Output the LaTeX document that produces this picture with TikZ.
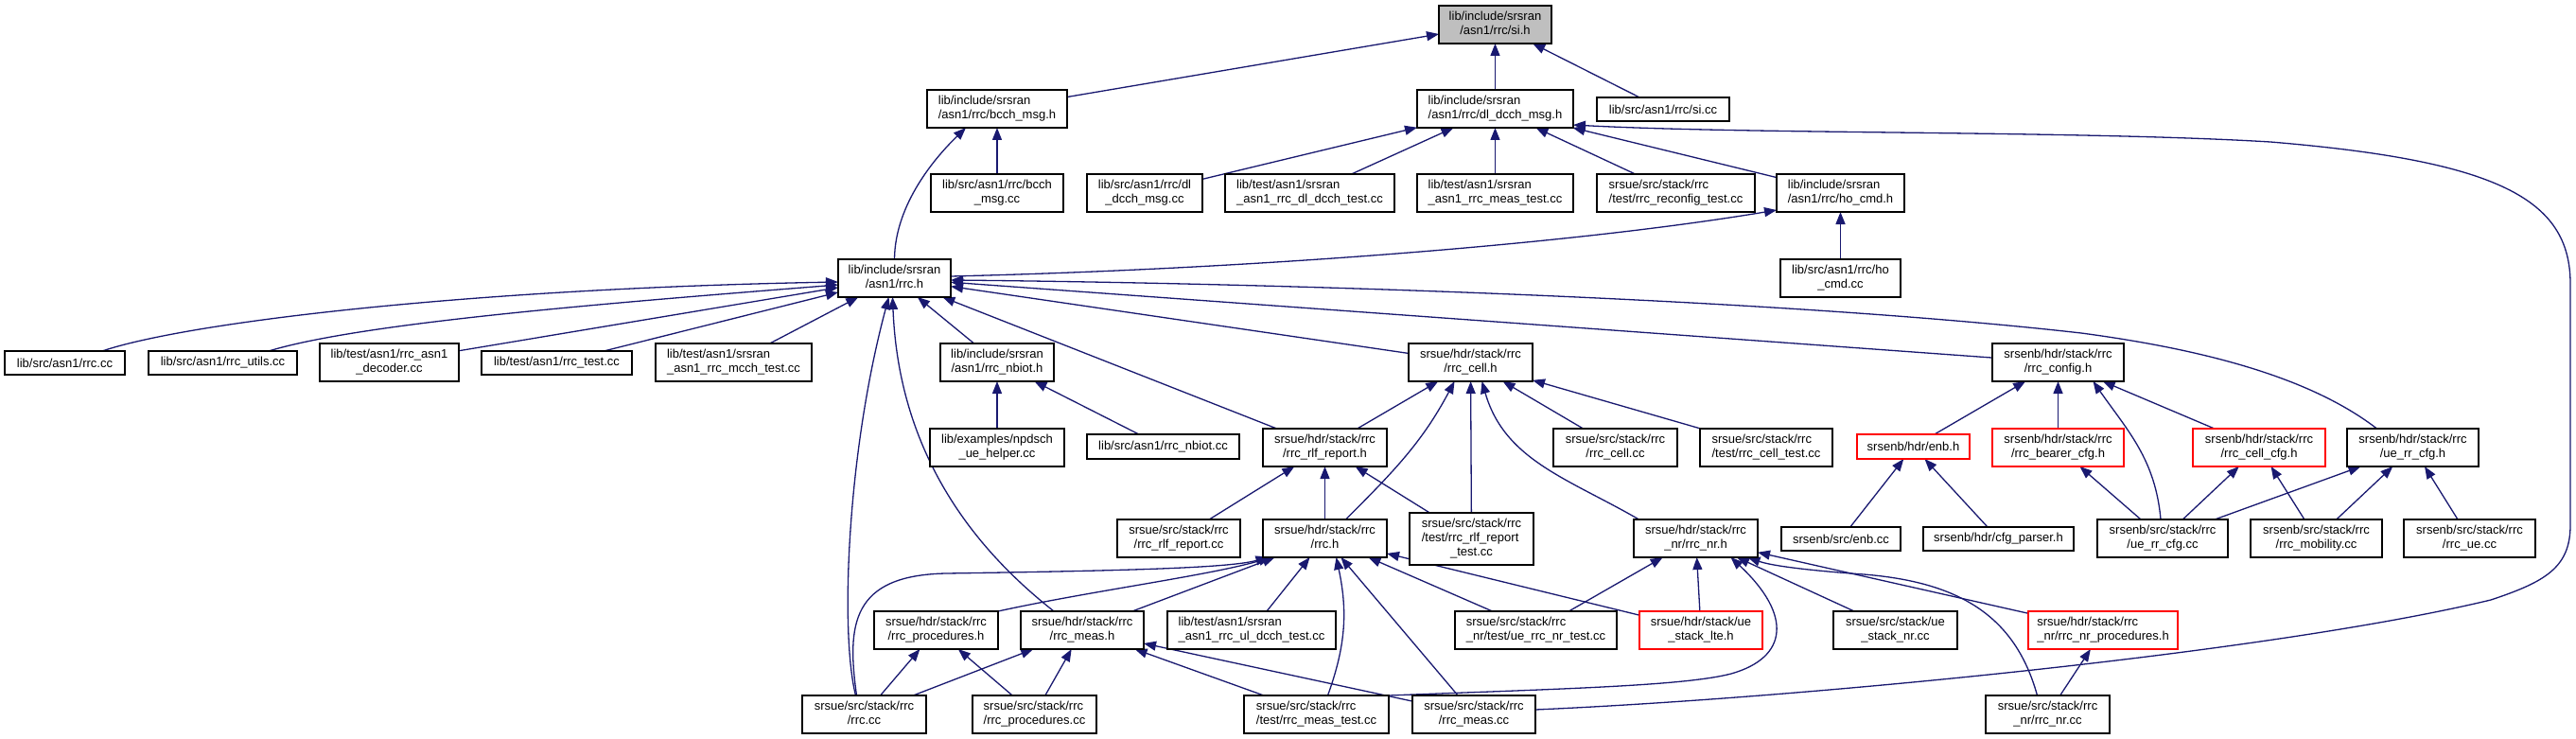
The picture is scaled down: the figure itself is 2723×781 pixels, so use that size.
\documentclass[tikz,border=0pt]{standalone}
\usepackage{fontspec}
\setmainfont{Liberation Sans}
\usetikzlibrary{arrows.meta}
\definecolor{edgeblue}{RGB}{25,25,112}
\definecolor{nodegray}{RGB}{191,191,191}
\pgfdeclarelayer{bg}
\pgfsetlayers{bg,main}
\newcommand{\twoln}[2]{\begin{tabular}{@{}l@{}}#1\\\multicolumn{1}{@{}c@{}}{#2}\end{tabular}}
\newcommand{\threeln}[3]{\begin{tabular}{@{}l@{}}#1\\#2\\\multicolumn{1}{@{}c@{}}{#3}\end{tabular}}
\newcommand{\mkfile}[7][]{\node[filebox,#1,minimum width={(#4-#3)*1pt},minimum height={(#6-#5)*1pt}] (#2) at ({(#3+#4)/2},{(#5+#6)/2}) {#7};}
\tikzset{
  filebox/.style={rectangle, draw=black, fill=white, line width=1.4pt, inner sep=0pt, outer sep=0pt, font={\fontsize{13}{15}\selectfont}},
  trunc/.style={draw=red},
  rootbox/.style={fill=nodegray},
  dep/.style={draw=edgeblue, line width=1.3pt, -{Triangle[length=13pt,width=10pt]}}
}
\begin{document}
\begin{tikzpicture}[x=1pt,y=-1pt]
\useasboundingbox (0,0) rectangle (2723,781);
% nodes
\mkfile[rootbox]{si}{1521}{1640}{6}{46}{\twoln{lib/include/srsran}{/asn1/rrc/si.h}}
\mkfile{bcchh}{980}{1128}{95}{135}{\twoln{lib/include/srsran}{/asn1/rrc/bcch\_msg.h}}
\mkfile{dldcchh}{1498}{1663}{95}{135}{\twoln{lib/include/srsran}{/asn1/rrc/dl\_dcch\_msg.h}}
\mkfile{sicc}{1688}{1828}{103}{128}{lib/src/asn1/rrc/si.cc}
\mkfile{bcchcc}{984}{1124}{184}{224}{\twoln{lib/src/asn1/rrc/bcch}{\_msg.cc}}
\mkfile{dldcchcc}{1149}{1271}{184}{224}{\twoln{lib/src/asn1/rrc/dl}{\_dcch\_msg.cc}}
\mkfile{dldcchtest}{1295}{1474}{184}{224}{\twoln{lib/test/asn1/srsran}{\_asn1\_rrc\_dl\_dcch\_test.cc}}
\mkfile{meastestlib}{1498}{1663}{184}{224}{\twoln{lib/test/asn1/srsran}{\_asn1\_rrc\_meas\_test.cc}}
\mkfile{reconfigtest}{1688}{1855}{184}{224}{\twoln{srsue/src/stack/rrc}{/test/rrc\_reconfig\_test.cc}}
\mkfile{hocmdh}{1878}{2013}{184}{224}{\twoln{lib/include/srsran}{/asn1/rrc/ho\_cmd.h}}
\mkfile{rrch}{886}{1005}{274}{314}{\twoln{lib/include/srsran}{/asn1/rrc.h}}
\mkfile{hocmdcc}{1882}{2009}{274}{314}{\twoln{lib/src/asn1/rrc/ho}{\_cmd.cc}}
\mkfile{asnrrccc}{5}{132}{371}{396}{lib/src/asn1/rrc.cc}
\mkfile{rrcutils}{157}{314}{371}{396}{lib/src/asn1/rrc\_utils.cc}
\mkfile{asndecoder}{338}{485}{363}{403}{\twoln{lib/test/asn1/rrc\_asn1}{\_decoder.cc}}
\mkfile{rrctest}{509}{668}{371}{396}{lib/test/asn1/rrc\_test.cc}
\mkfile{mcchtest}{693}{858}{363}{403}{\twoln{lib/test/asn1/srsran}{\_asn1\_rrc\_mcch\_test.cc}}
\mkfile{nbioth}{994}{1114}{363}{403}{\twoln{lib/include/srsran}{/asn1/rrc\_nbiot.h}}
\mkfile{cellh}{1489}{1620}{363}{403}{\twoln{srsue/hdr/stack/rrc}{/rrc\_cell.h}}
\mkfile{configh}{2106}{2245}{363}{403}{\twoln{srsenb/hdr/stack/rrc}{/rrc\_config.h}}
\mkfile{npdsch}{983}{1125}{453}{493}{\twoln{lib/examples/npdsch}{\_ue\_helper.cc}}
\mkfile{nbiotcc}{1149}{1310}{459}{485}{lib/src/asn1/rrc\_nbiot.cc}
\mkfile{rlfh}{1335}{1466}{453}{493}{\twoln{srsue/hdr/stack/rrc}{/rrc\_rlf\_report.h}}
\mkfile{cellcc}{1642}{1773}{453}{493}{\twoln{srsue/src/stack/rrc}{/rrc\_cell.cc}}
\mkfile{celltest}{1797}{1937}{453}{493}{\twoln{srsue/src/stack/rrc}{/test/rrc\_cell\_test.cc}}
\mkfile[trunc]{enbh}{1963}{2082}{459}{485}{srsenb/hdr/enb.h}
\mkfile[trunc]{bearer}{2106}{2245}{453}{493}{\twoln{srsenb/hdr/stack/rrc}{/rrc\_bearer\_cfg.h}}
\mkfile[trunc]{cellcfgh}{2318}{2458}{453}{493}{\twoln{srsenb/hdr/stack/rrc}{/rrc\_cell\_cfg.h}}
\mkfile{uerrcfgh}{2481}{2620}{453}{493}{\twoln{srsenb/hdr/stack/rrc}{/ue\_rr\_cfg.h}}
\mkfile{rlfcc}{1181}{1311}{549}{589}{\twoln{srsue/src/stack/rrc}{/rrc\_rlf\_report.cc}}
\mkfile{uerrch}{1335}{1466}{549}{589}{\twoln{srsue/hdr/stack/rrc}{/rrc.h}}
\mkfile{rlftest}{1490}{1621}{542}{597}{\threeln{srsue/src/stack/rrc}{/test/rrc\_rlf\_report}{\_test.cc}}
\mkfile{nrh}{1727}{1858}{549}{589}{\twoln{srsue/hdr/stack/rrc}{\_nr/rrc\_nr.h}}
\mkfile{enbcc}{1883}{2009}{557}{582}{srsenb/src/enb.cc}
\mkfile{cfgparser}{2033}{2192}{557}{582}{srsenb/hdr/cfg\_parser.h}
\mkfile{uerrcfgcc}{2217}{2355}{549}{589}{\twoln{srsenb/src/stack/rrc}{/ue\_rr\_cfg.cc}}
\mkfile{mobility}{2379}{2518}{549}{589}{\twoln{srsenb/src/stack/rrc}{/rrc\_mobility.cc}}
\mkfile{rrcuecc}{2541}{2680}{549}{589}{\twoln{srsenb/src/stack/rrc}{/rrc\_ue.cc}}
\mkfile{procsh}{924}{1055}{646}{686}{\twoln{srsue/hdr/stack/rrc}{/rrc\_procedures.h}}
\mkfile{meash}{1079}{1209}{646}{686}{\twoln{srsue/hdr/stack/rrc}{/rrc\_meas.h}}
\mkfile{uldcch}{1234}{1412}{646}{686}{\twoln{lib/test/asn1/srsran}{\_asn1\_rrc\_ul\_dcch\_test.cc}}
\mkfile{nrtest}{1538}{1709}{646}{686}{\twoln{srsue/src/stack/rrc}{\_nr/test/ue\_rrc\_nr\_test.cc}}
\mkfile[trunc]{stacklte}{1733}{1863}{646}{686}{\twoln{srsue/hdr/stack/ue}{\_stack\_lte.h}}
\mkfile{stacknr}{1938}{2069}{646}{686}{\twoln{srsue/src/stack/ue}{\_stack\_nr.cc}}
\mkfile[trunc]{nrprocs}{2144}{2302}{646}{686}{\twoln{srsue/hdr/stack/rrc}{\_nr/rrc\_nr\_procedures.h}}
\mkfile{uerrccc}{848}{979}{735}{775}{\twoln{srsue/src/stack/rrc}{/rrc.cc}}
\mkfile{procscc}{1028}{1159}{735}{775}{\twoln{srsue/src/stack/rrc}{/rrc\_procedures.cc}}
\mkfile{meastest}{1315}{1468}{735}{775}{\twoln{srsue/src/stack/rrc}{/test/rrc\_meas\_test.cc}}
\mkfile{meascc}{1493}{1623}{735}{775}{\twoln{srsue/src/stack/rrc}{/rrc\_meas.cc}}
\mkfile{nrcc}{2099}{2230}{735}{775}{\twoln{srsue/src/stack/rrc}{\_nr/rrc\_nr.cc}}
% edges
\begin{pgfonlayer}{bg}
\fill[white] (0,0) rectangle (2723,781);
\draw[dep] (bcchh) -- (si);
\draw[dep] (dldcchh) -- (si);
\draw[dep] (sicc) -- (si);
\draw[dep] (bcchcc) -- (bcchh);
\draw[dep] (dldcchcc) -- (dldcchh);
\draw[dep] (dldcchtest) -- (dldcchh);
\draw[dep] (meastestlib) -- (dldcchh);
\draw[dep] (reconfigtest) -- (dldcchh);
\draw[dep] (hocmdh) -- (dldcchh);
\draw[dep] (hocmdcc) -- (hocmdh);
\draw[dep] (asndecoder) -- (rrch);
\draw[dep] (rrctest) -- (rrch);
\draw[dep] (mcchtest) -- (rrch);
\draw[dep] (nbioth) -- (rrch);
\draw[dep] (rlfh) -- (rrch);
\draw[dep] (cellh) -- (rrch);
\draw[dep] (configh) -- (rrch);
\draw[dep] (npdsch) -- (nbioth);
\draw[dep] (nbiotcc) -- (nbioth);
\draw[dep] (rlfh) -- (cellh);
\draw[dep] (rlftest) -- (cellh);
\draw[dep] (cellcc) -- (cellh);
\draw[dep] (celltest) -- (cellh);
\draw[dep] (enbh) -- (configh);
\draw[dep] (bearer) -- (configh);
\draw[dep] (cellcfgh) -- (configh);
\draw[dep] (enbcc) -- (enbh);
\draw[dep] (cfgparser) -- (enbh);
\draw[dep] (uerrcfgcc) -- (bearer);
\draw[dep] (uerrcfgcc) -- (cellcfgh);
\draw[dep] (mobility) -- (cellcfgh);
\draw[dep] (uerrcfgcc) -- (uerrcfgh);
\draw[dep] (mobility) -- (uerrcfgh);
\draw[dep] (rrcuecc) -- (uerrcfgh);
\draw[dep] (rlfcc) -- (rlfh);
\draw[dep] (uerrch) -- (rlfh);
\draw[dep] (rlftest) -- (rlfh);
\draw[dep] (meash) -- (uerrch);
\draw[dep] (uldcch) -- (uerrch);
\draw[dep] (meascc) -- (uerrch);
\draw[dep] (nrtest) -- (uerrch);
\draw[dep] (stacklte) -- (uerrch);
\draw[dep] (nrtest) -- (nrh);
\draw[dep] (stacklte) -- (nrh);
\draw[dep] (stacknr) -- (nrh);
\draw[dep] (nrprocs) -- (nrh);
\draw[dep] (nrcc) -- (nrprocs);
\draw[dep] (uerrccc) -- (procsh);
\draw[dep] (procscc) -- (procsh);
\draw[dep] (uerrccc) -- (meash);
\draw[dep] (procscc) -- (meash);
\draw[dep] (meastest) -- (meash);
\draw[dep] (meascc) -- (meash);
% curved edges
\draw[dep] (rrch.north) .. controls (946,215) and (990,165) .. ([xshift=-33pt]bcchh.south);
\draw[dep] ([yshift=2pt]rrch.east) .. controls (1300,285) and (1650,260) .. ([yshift=2pt]hocmdh.south west);
\draw[dep] ([yshift=5pt]meascc.east) .. controls (1900,738) and (2400,690) .. (2633,634) .. controls (2690,615) and (2717,600) .. (2717,555) -- (2717,300) .. controls (2717,210) and (2640,170) .. (2400,150) .. controls (2200,138) and (1850,142) .. ([yshift=3pt]dldcchh.south east);
\draw[dep] ([xshift=39.5pt]asnrrccc.north) .. controls (200,340) and (500,305) .. ([yshift=-4pt]rrch.west);
\draw[dep] ([xshift=48.5pt]rrcutils.north) .. controls (380,342) and (620,322) .. ([yshift=-7pt]rrch.west);
\draw[dep] ([xshift=-38pt]uerrcfgh.north) .. controls (2450,405) and (2350,372) .. (2200,352) .. controls (1900,318) and (1400,300) .. ([yshift=-2pt]rrch.east);
\draw[dep] ([xshift=-9pt]uerrccc.north) .. controls (888,670) and (895,480) .. ([xshift=-6pt]rrch.south);
\draw[dep] ([xshift=-30pt]meash.north) .. controls (1030,580) and (950,480) .. ([xshift=-2pt]rrch.south);
\draw[dep] ([xshift=22pt]uerrch.north) to[out=45,in=-118] ([xshift=-17pt]cellh.south);
\draw[dep] ([xshift=-60pt]nrh.north) to[out=150,in=-74] ([xshift=12pt]cellh.south);
\draw[dep] ([xshift=-8pt]uerrccc.north) .. controls (895,660) and (900,608) .. (1000,606) .. controls (1200,603) and (1300,600) .. ([xshift=-60pt]uerrch.south);
\draw[dep] (procsh.north east) .. controls (1150,625) and (1280,608) .. ([xshift=-57pt]uerrch.south);
\draw[dep] ([xshift=12pt]meastest.north) to[out=70,in=-78] ([xshift=12pt]uerrch.south);
\draw[dep] (meastest.north east) .. controls (1650,728) and (1780,725) .. (1830,712) .. controls (1890,695) and (1895,650) .. ([xshift=37pt]nrh.south);
\draw[dep] ([xshift=-11pt]nrcc.north) .. controls (2130,650) and (2070,615) .. (1970,607) .. controls (1900,602) and (1870,597) .. ([xshift=55pt]nrh.south);
\draw[dep] ([xshift=-2pt]uerrcfgcc.north) to[out=95,in=-55] ([xshift=37pt]configh.south);
\end{pgfonlayer}
\end{tikzpicture}
\end{document}
